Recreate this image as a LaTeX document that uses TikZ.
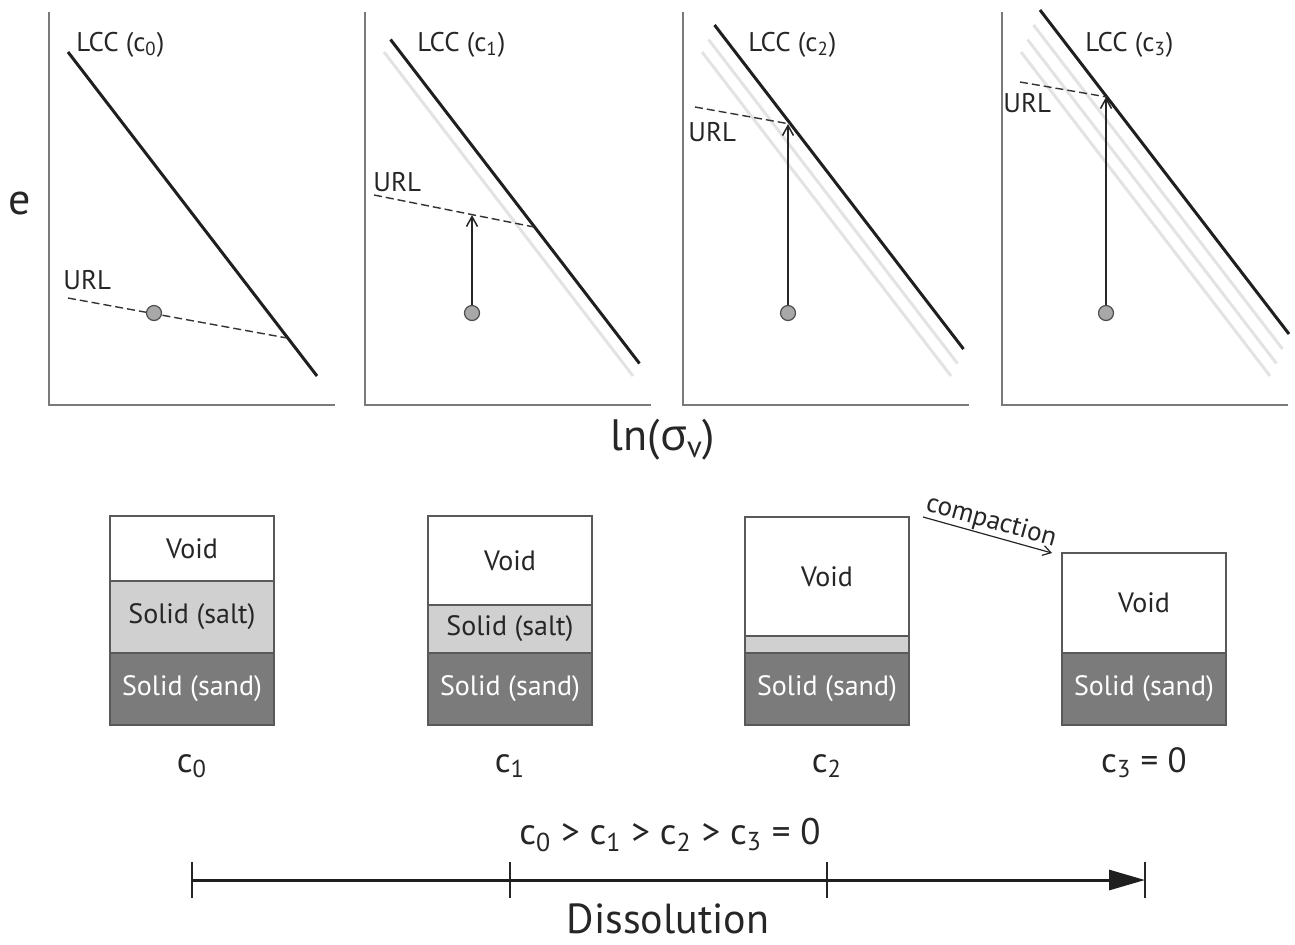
\documentclass[tikz,border=0pt]{standalone}
\usepackage{fontspec}
\setmainfont{PT Sans}
\newfontfamily\grkfont{Open Sans}
\usetikzlibrary{arrows.meta,positioning}
\definecolor{axgray}{HTML}{7A7A7A}
\definecolor{oldgray}{HTML}{E3E3E3}
\definecolor{saltgray}{HTML}{D0D0D0}
\definecolor{sandgray}{HTML}{7B7B7B}
\definecolor{dotgray}{HTML}{A8A8A8}
\newcommand{\csb}[1]{c\textsubscript{#1}}

\begin{document}
\begin{tikzpicture}[x=0.5pt,y=-0.5pt,
  ax/.style={draw=axgray,line width=1pt},
  lcc/.style={draw=black!88,line width=1.5pt},
  old/.style={draw=oldgray,line width=1.5pt},
  url/.style={draw=black!80,line width=0.7pt,dash pattern=on 4pt off 2pt},
  lbl/.style={anchor=west,inner sep=0pt,text=black!85,font=\fontsize{13.5}{15}\selectfont},
  pt/.style={circle,draw=black!70,fill=dotgray,line width=0.6pt,minimum size=7.5pt,inner sep=0pt},
  up/.style={draw=black!85,line width=0.75pt,-{Straight Barb[length=5pt,width=5.5pt]}},
  layer/.style={draw=black!65,line width=0.75pt,minimum width=82pt,inner sep=0pt,outer sep=0pt,
                font=\fontsize{14}{16}\selectfont,text=black!85},
  void/.style={layer,fill=white},
  salt/.style={layer,fill=saltgray},
  sand/.style={layer,fill=sandgray,text=white},
  phaselbl/.style={anchor=base,inner sep=0pt,font=\fontsize{17.5}{20}\selectfont,text=black!85},
  cmp/.style={draw=black!85,line width=0.6pt,-{Straight Barb[length=4pt,width=5pt]}},
  tickmark/.style={draw=black!85,line width=1pt},
  tl/.style={draw=black!88,line width=1.5pt,-{Triangle[length=18pt,width=10pt]}}
]
\useasboundingbox (0,0) rectangle (1295,944);

% e-ln(sigma_v) panels, earlier LCCs in light gray
\foreach \p/\px in {0/49,1/365,2/683,3/1002}{
  \draw[ax] (\px,12) -- (\px,405) -- (\px+286,405);
  \foreach \k/\sx/\sy in {0/19/52,1/25.5/39.5,2/31.5/25,3/38/10}{
    \ifnum\k<\p \draw[old] (\px+\sx,\sy) -- ++(249,324); \fi
  }
}
\draw[lcc] (68,52) -- ++(249,324);
\draw[lcc] (390.5,39.5) -- ++(249,324);
\draw[lcc] (714.5,25) -- ++(249,324);
\draw[lcc] (1040,10) -- ++(249,324);

\node[lbl] (lcc0) at (76,45) {LCC (\csb{0})};
\node[lbl] (lcc1) at (417,45) {LCC (\csb{1})};
\node[lbl] (lcc2) at (748,45) {LCC (\csb{2})};
\node[lbl] (lcc3) at (1085,45) {LCC (\csb{3})};

\node[lbl] (url0) at (63,280) {URL};
\node[lbl] (url1) at (373,182) {URL};
\node[lbl] (url2) at (688,132) {URL};
\node[lbl] (url3) at (1003,103) {URL};

\draw[url] (68,298) -- (287,338);
\draw[url] (374,195) -- (534,227);
\draw[url] (695,107) -- (790,124);
\draw[url] (1020,82) -- (1107,97);

\node[pt] (p0) at (154,313) {};
\node[pt] (p1) at (472,313) {};
\node[pt] (p2) at (788,313) {};
\node[pt] (p3) at (1106,313) {};
\coordinate (a1) at (472,215);
\coordinate (a2) at (788,124);
\coordinate (a3) at (1106,97);
\foreach \i in {1,2,3}
  {\draw[up] (p\i) -- (a\i);}

\node[text=black!85,font=\fontsize{22}{26}\selectfont] (ylab) at (20,203) {e};
\node[text=black!85,font=\fontsize{22}{26}\selectfont] (xlab) at (663,440) {ln({\grkfont σ}\textsubscript{v})};

% phase columns
\node[sand,minimum height=36pt] (d0) at (192,689) {Solid (sand)};
\node[salt,minimum height=36pt,above=0pt of d0] (s0) {Solid (salt)};
\node[void,minimum height=32.5pt,above=0pt of s0] (v0) {Void};

\node[sand,minimum height=36pt] (d1) at (510,689) {Solid (sand)};
\node[salt,minimum height=24pt,above=0pt of d1] (s1) {Solid (salt)};
\node[void,minimum height=44.5pt,above=0pt of s1] (v1) {Void};

\node[sand,minimum height=36pt] (d2) at (827,689) {Solid (sand)};
\node[salt,minimum height=8.5pt,above=0pt of d2] (s2) {};
\node[void,minimum height=59.5pt,above=0pt of s2] (v2) {Void};

\node[sand,minimum height=36pt] (d3) at (1144,689) {Solid (sand)};
\node[void,minimum height=50pt,above=0pt of d3] (v3) {Void};

\node[phaselbl] (c0) at ([yshift=-23.5pt]d0.south) {\csb{0}};
\node[phaselbl] (c1) at ([yshift=-23.5pt]d1.south) {\csb{1}};
\node[phaselbl] (c2) at ([yshift=-23.5pt]d2.south) {\csb{2}};
\node[phaselbl] (c3) at ([yshift=-23.5pt]d3.south) {\csb{3} = 0};

\draw[cmp] ([xshift=7pt]v2.north east) -- ([xshift=-5pt]v3.north west)
  node[midway,sloped,above=0.5pt,inner sep=0pt,text=black!85,font=\fontsize{13.5}{15}\selectfont] (cmpl) {compaction};

% dissolution axis
\foreach \i/\x in {0/192,1/510,2/827,3/1145}{
  \coordinate (t\i) at (\x,880);
  \draw[tickmark] ([yshift=9pt]t\i) -- ([yshift=-9pt]t\i);
}
\draw[tl] (t0) -- (t3);
\node[text=black!85,font=\fontsize{18.5}{21}\selectfont] (ord) at (670,835) {\csb{0} > \csb{1} > \csb{2} > \csb{3} = 0};
\node[inner sep=0pt,text=black!85,font=\fontsize{21}{24}\selectfont] (diss) at (668,919) {Dissolution};
\end{tikzpicture}
\end{document}
